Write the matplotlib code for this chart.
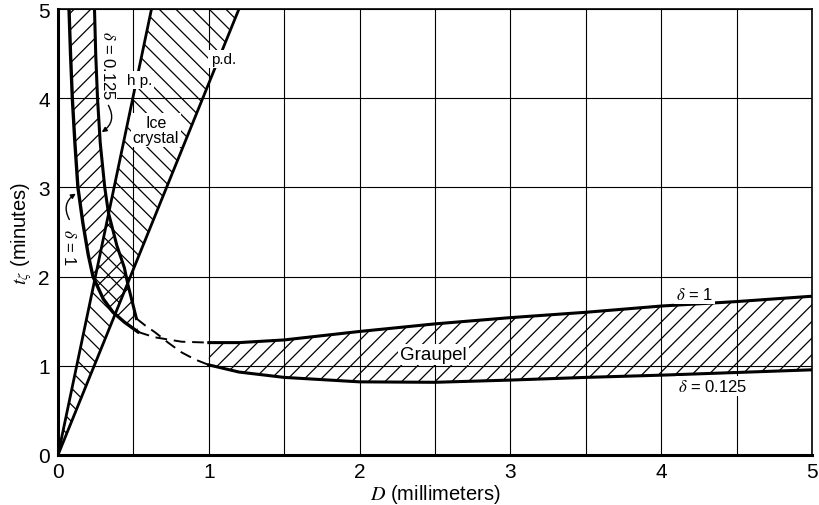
import numpy as np
import matplotlib.pyplot as plt

plt.rcParams['font.family'] = ['Liberation Sans', 'DejaVu Sans']
plt.rcParams['mathtext.fontset'] = 'stix'
plt.rcParams['hatch.linewidth'] = 0.9

# ice crystal band, straight lines from the origin (t in minutes, D in mm)
ice_t = [0.0, 5.0]
hp_x = [0.0, 0.62]    # h.p. (hexagonal plates)
pd_x = [0.0, 1.2]     # p.d. (dendrites)

# graupel, small-D branch, read as D(t)
d1_t = [5.0, 4.5, 4.0, 3.5, 3.0, 2.6, 2.25, 2.0, 1.75, 1.6, 1.49, 1.38]
d1_x = [0.073, 0.083, 0.095, 0.112, 0.132, 0.165, 0.20, 0.232, 0.30, 0.365, 0.44, 0.53]
d0125_t = [5.0, 4.5, 4.0, 3.5, 3.0, 2.72, 2.35, 2.1, 1.9, 1.7, 1.53]
d0125_x = [0.242, 0.25, 0.262, 0.28, 0.31, 0.334, 0.39, 0.44, 0.465, 0.495, 0.52]

# dashed connections
dash1_x = [0.53, 0.64, 0.82, 1.0]
dash1_t = [1.38, 1.32, 1.27, 1.26]
dash0125_x = [0.52, 0.58, 0.644, 0.73, 0.82, 0.91, 1.0]
dash0125_t = [1.53, 1.45, 1.375, 1.26, 1.15, 1.07, 1.01]

# graupel, large-D branch
gr_x = [1.0, 1.2, 1.5, 2.0, 2.5, 3.0, 3.5, 4.0, 4.5, 5.0]
gr_up = [1.26, 1.26, 1.29, 1.385, 1.47, 1.54, 1.60, 1.67, 1.72, 1.78]
gr_low = [1.01, 0.93, 0.87, 0.82, 0.815, 0.84, 0.87, 0.895, 0.925, 0.955]

ticks = [0, 1, 2, 3, 4, 5]

fig = plt.figure(figsize=(8.19, 5.06), dpi=100)
ax = fig.add_axes([58 / 819, 50 / 506, 754 / 819, 446 / 506])

hatch_kw = dict(facecolor='none', edgecolor='black', linewidth=0)

# hatched regions
ax.fill_betweenx(ice_t, hp_x, pd_x, hatch='\\\\', **hatch_kw)
ax.fill(np.concatenate([d1_x, d0125_x[::-1]]),
        np.concatenate([d1_t, d0125_t[::-1]]), hatch='//', **hatch_kw)
ax.fill_between(gr_x, gr_low, gr_up, hatch='//', **hatch_kw)

# boundary curves
ax.plot(hp_x, ice_t, color='black', lw=2.0)
ax.plot(pd_x, ice_t, color='black', lw=2.0)
ax.plot(d1_x, d1_t, color='black', lw=2.4)
ax.plot(d0125_x, d0125_t, color='black', lw=2.2)
ax.plot(dash1_x, dash1_t, color='black', lw=1.4, dashes=(6, 3.5))
ax.plot(dash0125_x, dash0125_t, color='black', lw=1.4, dashes=(6, 3.5))
ax.plot(gr_x, gr_up, color='black', lw=2.2)
ax.plot(gr_x, gr_low, color='black', lw=2.2)

box = dict(facecolor='white', edgecolor='none', pad=1.5)
ax.text(1.095, 4.44, 'p.d.', fontsize=11, ha='center', va='center', bbox=box)
ax.text(0.54, 4.2, 'h p.', fontsize=11, ha='center', va='center', bbox=box)
ax.text(0.65, 3.64, 'Ice\ncrystal', fontsize=11.5, ha='center', va='center',
        linespacing=1.0, bbox=box)
ax.text(2.49, 1.13, 'Graupel', fontsize=13.5, ha='center', va='center', bbox=box)
ax.text(4.22, 1.8, r'$\delta$ = 1', fontsize=12, ha='center', va='center', bbox=box)
ax.text(4.34, 0.77, r'$\delta$ = 0.125', fontsize=12, ha='center', va='center', bbox=box)
ax.text(0.334, 4.38, r'$\delta$ = 0.125', fontsize=12, rotation=-90,
        ha='center', va='center', bbox=dict(facecolor='white', edgecolor='none', pad=0.5))
ax.text(0.075, 2.34, r'$\delta$ = 1', fontsize=12, rotation=-90,
        ha='center', va='center', bbox=dict(facecolor='white', edgecolor='none', pad=0.5))

arrow = dict(arrowstyle='-|>', color='black', lw=1.0, mutation_scale=7,
             shrinkA=0, shrinkB=0)
ax.annotate('', xy=(0.29, 3.62), xytext=(0.334, 3.92),
            arrowprops=dict(connectionstyle='arc3,rad=-0.45', **arrow))
ax.annotate('', xy=(0.118, 2.93), xytext=(0.075, 2.64),
            arrowprops=dict(connectionstyle='arc3,rad=-0.45', **arrow))

ax.set_xlim(0, 5)
ax.set_ylim(0, 5)
ax.set_xticks(ticks)
ax.set_yticks(ticks)
ax.set_xticks(np.arange(0.5, 5, 1.0), minor=True)
ax.tick_params(which='both', length=0, labelsize=15)
ax.tick_params(axis='x', pad=5)
ax.tick_params(axis='y', pad=6)
ax.set_axisbelow(False)
ax.grid(True, which='major', color='black', lw=0.8)
ax.grid(True, which='minor', axis='x', color='black', lw=0.8)

for side in ['left', 'bottom']:
    ax.spines[side].set_linewidth(2.2)
for side in ['top', 'right']:
    ax.spines[side].set_linewidth(1.2)

ax.set_xlabel(r'$D$ (millimeters)', fontsize=14.5, labelpad=1)
ax.set_ylabel(r'$t_\zeta$ (minutes)', fontsize=14.5, labelpad=3)

plt.savefig('out.png', dpi=100)
